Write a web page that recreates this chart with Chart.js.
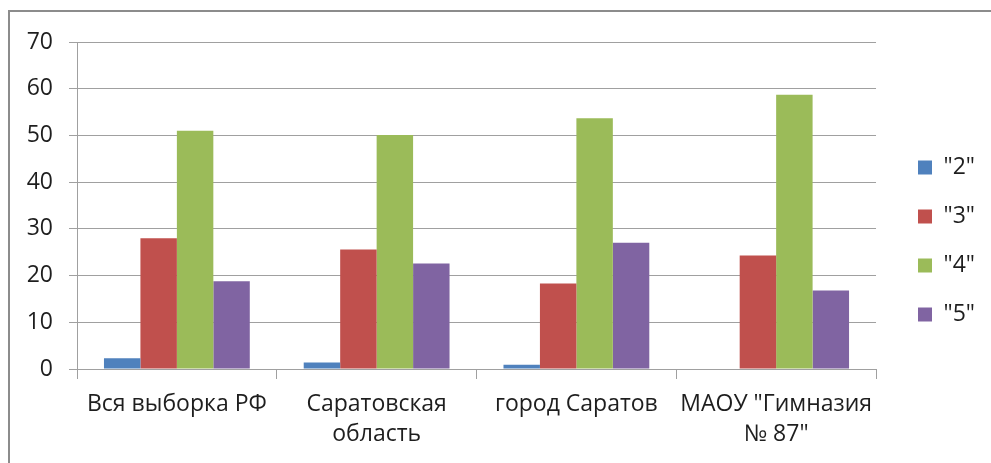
<!DOCTYPE html>
<html>
<head>
<meta charset="utf-8">
<script src="https://cdn.jsdelivr.net/npm/chart.js@4.4.1/dist/chart.umd.min.js"></script>
<style>
  html, body { margin: 0; padding: 0; background: #fff; }
  .wrap { position: relative; width: 991px; height: 463px; overflow: hidden; }
  .frame { position: absolute; left: 8px; top: 10px; width: 1000px; height: 500px; border: 2px solid #8c8c8c; }
  canvas { position: absolute; left: 0; top: 0; }
</style>
</head>
<body>
<div class="wrap">
  <div class="frame"></div>
  <canvas id="chart" width="991" height="463"></canvas>
</div>
<script>
const categories = ['Вся выборка РФ', ['Саратовская', 'область'], 'город Саратов', ['МАОУ "Гимназия', '№ 87"']];
const seriesNames = ['"2"', '"3"', '"4"', '"5"'];
const grade2 = [2.3, 1.4, 0.9, 0];
const grade3 = [28.0, 25.6, 18.3, 24.3];
const grade4 = [51.0, 50.1, 53.7, 58.7];
const grade5 = [18.8, 22.6, 27.0, 16.8];
const yTicks = [0, 10, 20, 30, 40, 50, 60, 70];

const colors = ['#4F81BD', '#C0504D', '#9BBB59', '#8064A2'];
const gridColor = '#a0a0a0';
const textColor = '#1e1e1e';
const font = { family: '"Open Sans", sans-serif', size: 23, lineHeight: 1.32 };

// legend is centred on the plot, not on the whole canvas
const legendShift = {
  id: 'legendShift',
  afterLayout(chart) {
    if (chart.legend) chart.legend.bottom -= 23;
  }
};

const ctx = document.getElementById('chart').getContext('2d');
new Chart(ctx, {
  type: 'bar',
  data: {
    labels: categories,
    datasets: [grade2, grade3, grade4, grade5].map((values, i) => ({
      label: seriesNames[i],
      data: values,
      backgroundColor: colors[i],
      borderWidth: 0,
      categoryPercentage: 0.73,
      barPercentage: 1
    }))
  },
  options: {
    responsive: false,
    animation: false,
    layout: { padding: { left: 8, top: 42, right: 6, bottom: 0 } },
    scales: {
      x: {
        grid: { display: true, drawOnChartArea: false, drawTicks: true, tickLength: 10, color: gridColor },
        border: { color: gridColor },
        ticks: { color: textColor, font: font, padding: 10, maxRotation: 0, autoSkip: false },
        afterFit: scale => { scale.height = 94; }
      },
      y: {
        min: 0,
        max: 70,
        afterBuildTicks: scale => { scale.ticks = yTicks.map(v => ({ value: v })); },
        grid: { color: gridColor, tickLength: 8 },
        border: { color: gridColor },
        ticks: { color: textColor, font: font, padding: 16 },
        afterFit: scale => { scale.width = 69; }
      },
      gap: {
        position: 'right',
        display: true,
        grid: { display: false },
        border: { display: false },
        ticks: { display: false },
        afterFit: scale => { scale.width = 16; }
      }
    },
    plugins: {
      legend: {
        position: 'right',
        labels: { color: textColor, font: font, boxWidth: 14, boxHeight: 14, padding: 26 }
      },
      tooltip: { enabled: false }
    }
  },
  plugins: [legendShift]
});
</script>
</body>
</html>
